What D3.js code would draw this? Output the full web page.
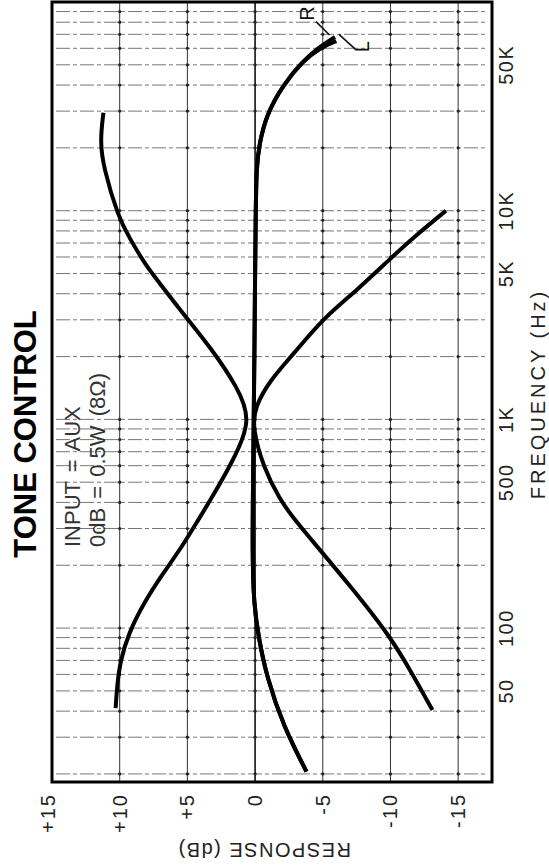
<!DOCTYPE html>
<html><head><meta charset="utf-8">
<script src="https://cdn.jsdelivr.net/npm/d3@7"></script>
<style>html,body{margin:0;padding:0;background:#fff;} svg{display:block;font-family:"Liberation Sans",Arial,sans-serif;}</style>
</head><body><svg id="c" width="549" height="865"></svg>
<script>
// ---- data ----
const dbTicks = [15, 10, 5, 0, -5, -10, -15];
const dbTickLabels = ["+15", "+10", "+5", "0", "-5", "-10", "-15"];
const freqTicks = [50, 100, 500, 1000, 5000, 10000, 50000];
const freqTickLabels = ["50", "100", "500", "1K", "5K", "10K", "50K"];

// max boost (bass + treble)
const boostFreq = [41.3, 52.5, 70, 94, 131, 183, 245, 330, 410, 637, 990, 1430, 2220, 3200, 4630, 5500, 7450, 9290, 16100, 21600, 29500];
const boostDb   = [10.3, 10.2, 9.95, 9.35, 8.25, 6.8, 5.4, 4.2, 3.3, 1.6, 0.25, 1.3, 3.3, 5.3, 7.2, 8.1, 9.3, 10.1, 11.2, 11.45, 11.2];
// max cut (bass + treble)
const cutFreq = [40.5, 60.6, 91, 160, 245, 329, 410, 590, 920, 1150, 1540, 2060, 3040, 4140, 5900, 7450, 10000];
const cutDb   = [-13.1, -11.6, -10.0, -7.0, -4.6, -2.95, -1.85, -0.6, 0.2, 0.0, -1.1, -2.85, -5.0, -7.5, -10.0, -11.7, -14.1];
// flat, right channel
const flatRFreq = [20.5, 33.7, 58.5, 91, 131, 230, 500, 1000, 2000, 5000, 10000, 16000, 20800, 29000, 40400, 52200, 60000, 68000];
const flatRDb   = [-3.8, -2.1, -0.85, -0.25, 0.1, 0.2, 0.15, 0.1, 0.05, 0.0, -0.05, -0.1, -0.3, -0.85, -2.1, -3.55, -4.6, -5.9];
// flat, left channel
const flatLFreq = [20.5, 33.7, 58.5, 91, 131, 230, 500, 1000, 2000, 5000, 10000, 16000, 20800, 29000, 40400, 52200, 60000, 65000];
const flatLDb   = [-3.8, -2.1, -0.85, -0.25, 0.1, 0.2, 0.15, 0.1, 0.05, 0.0, -0.05, -0.1, -0.3, -0.85, -2.1, -3.55, -4.75, -6.0];

const titleText = "TONE CONTROL";
const noteLines = ["INPUT = AUX", "0dB = 0.5W (8\u03A9)"];
const xTitle = "FREQUENCY (Hz)";
const yTitle = "RESPONSE (dB)";

// ---- layout ----
const svg = d3.select("#c");
svg.append("rect").attr("width", 549).attr("height", 865).attr("fill", "#fff");

const pL = 52, pR = 492, pT = 2, pB = 782;
// response (dB) runs horizontally (+15 at left), frequency vertically (low at bottom)
const x = d3.scaleLinear().domain([15, -17.5]).range([pL, pR]);
const y = d3.scaleLog().domain([18.3, 100000]).range([pB, pT]);

const g = svg.append("g");

// horizontal (frequency) grid lines
const fGrid = y.ticks().filter(f => f >= 20 && f < 100000);
g.selectAll("line.hg").data(fGrid).join("line")
  .attr("x1", pL + 4).attr("x2", pR - 4)
  .attr("y1", d => y(d)).attr("y2", d => y(d))
  .attr("stroke", "#777").attr("stroke-width", 1)
  .attr("stroke-dasharray", "14,3,4,3");

// vertical (dB) grid lines
const dbGrid = dbTicks.filter(d => d < 15);
g.selectAll("line.vg").data(dbGrid).join("line")
  .attr("x1", d => x(d)).attr("x2", d => x(d))
  .attr("y1", pT).attr("y2", pB)
  .attr("stroke", d => d === 0 ? "#111" : "#333")
  .attr("stroke-width", d => d === 0 ? 1.6 : 1);

// intersection dots
const dots = [];
dbGrid.forEach(d => fGrid.forEach(f => dots.push([d, f])));
g.selectAll("circle.dt").data(dots).join("circle")
  .attr("cx", d => x(d[0])).attr("cy", d => y(d[1])).attr("r", 1.6).attr("fill", "#222");

// frame
g.append("rect").attr("x", pL).attr("y", pT)
  .attr("width", pR - pL).attr("height", pB - pT)
  .attr("fill", "none").attr("stroke", "#000").attr("stroke-width", 3);

// curves
const line = d3.line().x(d => x(d[1])).y(d => y(d[0])).curve(d3.curveBasis);
const zip = (a, b) => a.map((v, i) => [v, b[i]]);
[[boostFreq, boostDb], [cutFreq, cutDb], [flatLFreq, flatLDb], [flatRFreq, flatRDb]].forEach(([f, v]) => {
  g.append("path").attr("d", line(zip(f, v)))
    .attr("fill", "none").attr("stroke", "#000").attr("stroke-width", 4)
    .attr("stroke-linecap", "butt").attr("stroke-linejoin", "round");
});

// R / L labels with leaders
const rot = (px, py, a) => `translate(${px},${py}) rotate(${a})`;
g.append("text").attr("transform", rot(x(-3.8), y(88000), -90)).attr("dy", "0.35em")
  .attr("text-anchor", "middle").attr("font-size", 20).attr("fill", "#111").text("R");
g.append("line").attr("x1", x(-4.5)).attr("y1", y(80500)).attr("x2", x(-5.5)).attr("y2", y(69500))
  .attr("stroke", "#111").attr("stroke-width", 1.6);
g.append("text").attr("transform", rot(x(-7.9), y(61000), -90)).attr("dy", "0.35em")
  .attr("text-anchor", "middle").attr("font-size", 20).attr("fill", "#111").text("L");
g.append("line").attr("x1", x(-6.2)).attr("y1", y(70000)).attr("x2", x(-7.4)).attr("y2", y(59500))
  .attr("stroke", "#111").attr("stroke-width", 1.6);

// frequency tick labels (right side)
g.selectAll("text.ft").data(freqTicks).join("text")
  .attr("transform", d => rot(506, y(d), -90))
  .attr("dy", "0.35em").attr("text-anchor", "middle")
  .attr("font-size", 20).attr("letter-spacing", 1.5).attr("fill", "#222")
  .text((d, i) => freqTickLabels[i]);

// response tick labels (bottom)
g.selectAll("text.dt").data(dbTicks).join("text")
  .attr("transform", d => rot(x(d) - (d === 15 ? 4 : 0), 793, -90))
  .attr("dy", "0.35em").attr("text-anchor", "end")
  .attr("font-size", 20).attr("letter-spacing", 2).attr("fill", "#222")
  .text((d, i) => dbTickLabels[i]);

// axis titles
g.append("text").attr("transform", rot(538, 394, -90)).attr("dy", "0.35em")
  .attr("text-anchor", "middle").attr("font-size", 20).attr("letter-spacing", 3)
  .attr("fill", "#222").text(xTitle);
g.append("text").attr("transform", rot(264, 843, 180))
  .attr("text-anchor", "middle").attr("font-size", 20).attr("letter-spacing", 1.5)
  .attr("fill", "#222").text(yTitle);

// notes
noteLines.forEach((t, i) => {
  g.append("text").attr("transform", rot(72 + i * 25.5, 547, -90)).attr("dy", "0.35em")
    .attr("text-anchor", "start").attr("font-size", 22).attr("fill", "#333")
    .attr("word-spacing", 3).text(t);
});

// title
svg.append("text").attr("transform", rot(25, 434, -90)).attr("dy", "0.35em")
  .attr("text-anchor", "middle").attr("font-size", 31).attr("font-weight", "bold")
  .attr("fill", "#000").text(titleText);
</script></body></html>
